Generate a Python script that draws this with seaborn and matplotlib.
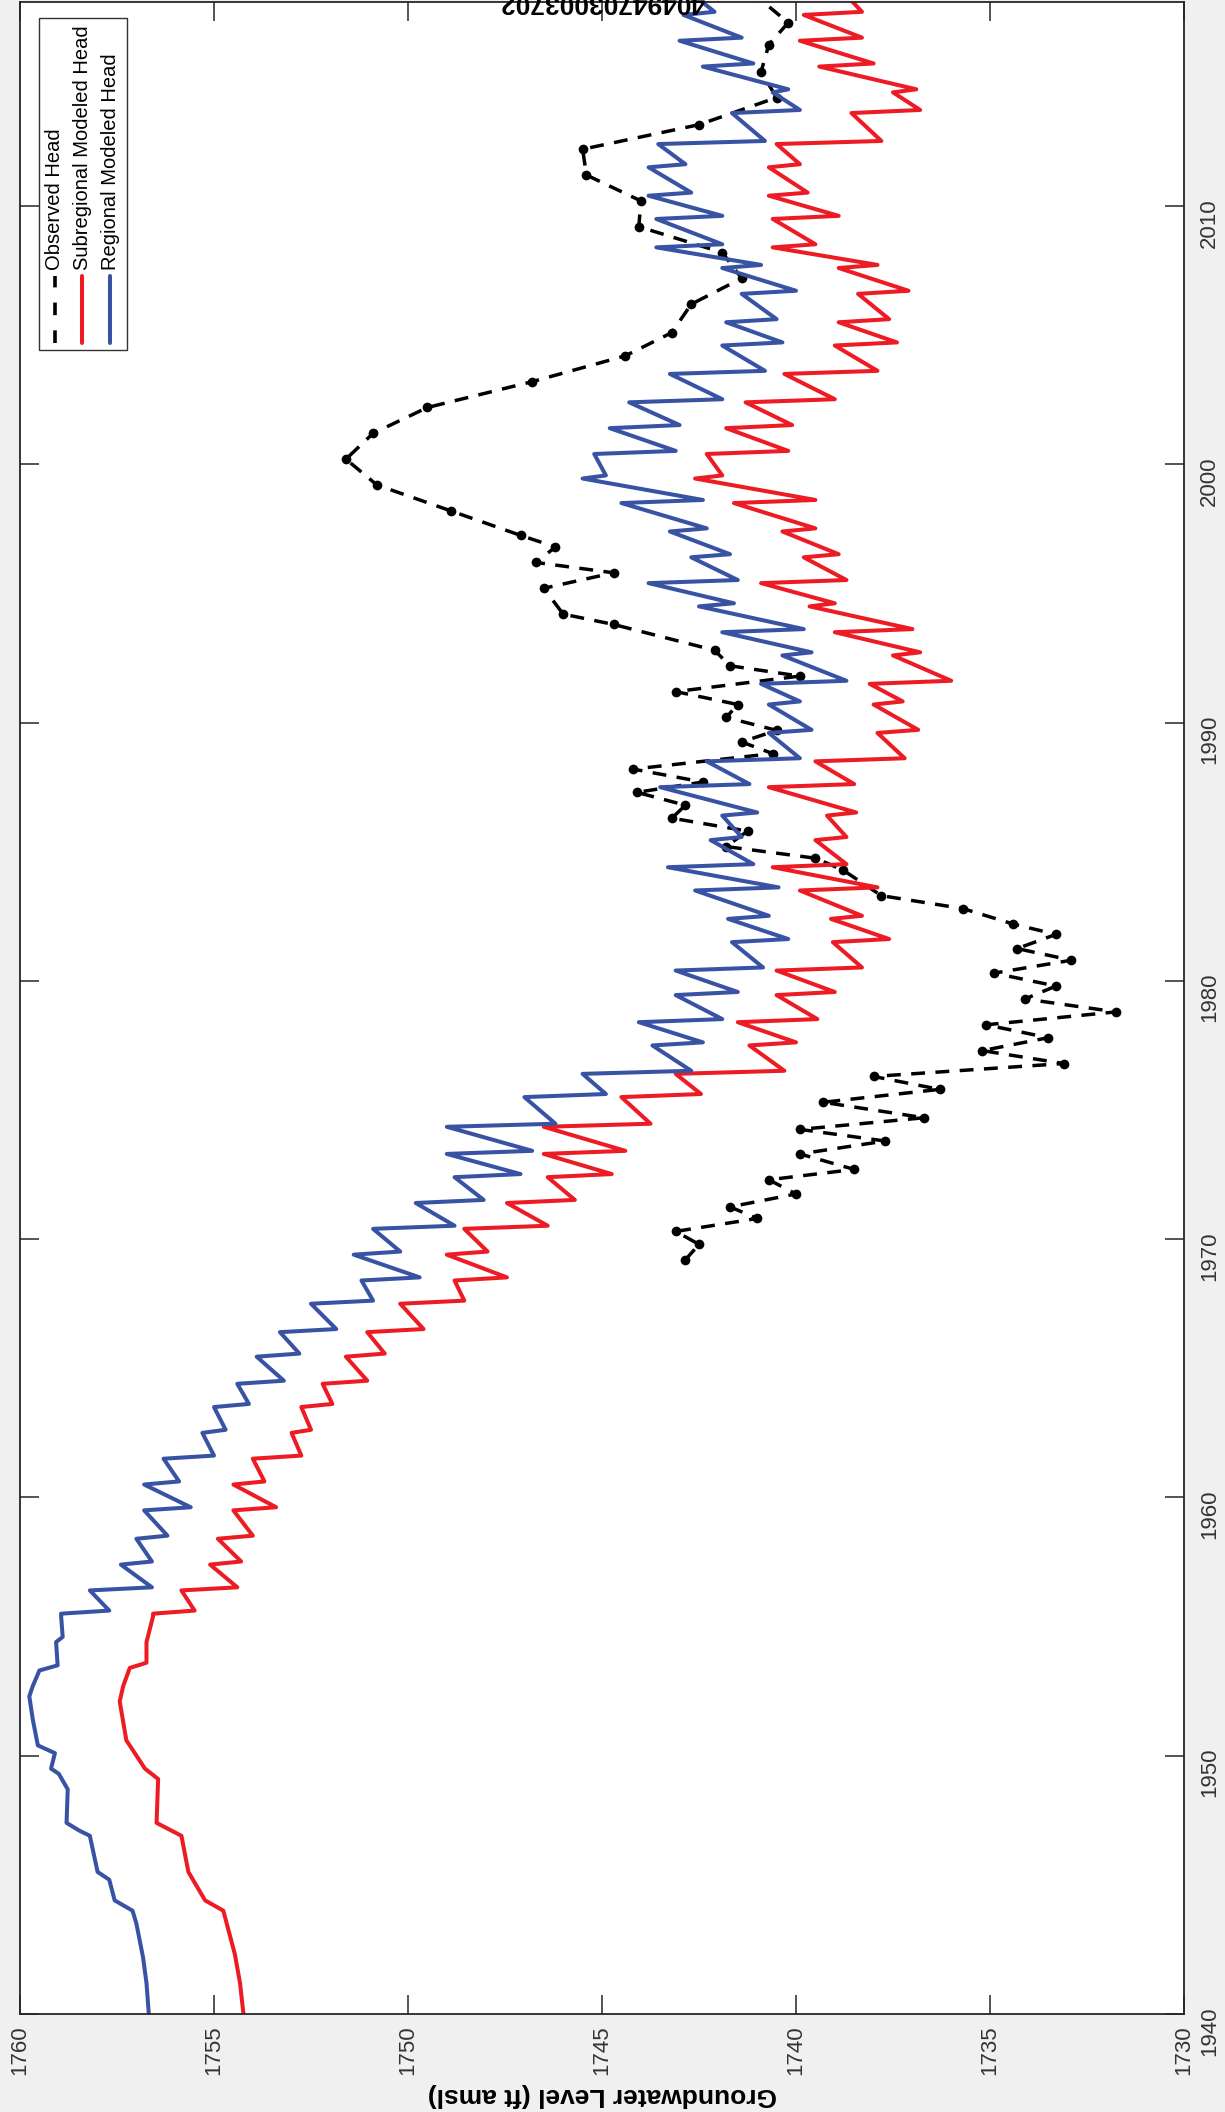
import matplotlib
matplotlib.use("Agg")
import matplotlib.pyplot as plt
from matplotlib.lines import Line2D
from matplotlib.patches import Rectangle
import seaborn as sns
import pandas as pd
import numpy as np

# ---- data (year, groundwater level in ft amsl) ----
# slow rise 1940-1955, plain polyline
blue_early_year = [1940.0, 1941.2, 1942.2, 1943.5, 1944.0, 1944.4, 1945.2, 1945.5, 1946.9, 1947.1,
                   1947.4, 1948.7, 1949.3, 1949.5, 1950.1, 1950.4, 1951.4, 1952.3, 1952.7, 1953.3,
                   1953.5, 1954.4, 1954.6, 1955.4]
blue_early_level = [1756.68, 1756.74, 1756.83, 1757.0, 1757.1, 1757.56, 1757.7, 1758.0, 1758.2, 1758.47,
                    1758.8, 1758.77, 1759.0, 1759.2, 1759.1, 1759.54, 1759.67, 1759.76, 1759.67, 1759.5,
                    1759.03, 1759.07, 1758.9, 1758.94]
red_early_year = [1940.0, 1941.2, 1942.3, 1944.0, 1944.4, 1945.5, 1946.9, 1947.4, 1949.1, 1949.5,
                  1950.6, 1952.1, 1952.7, 1953.4, 1953.6, 1954.4, 1955.4]
red_early_level = [1754.24, 1754.33, 1754.46, 1754.76, 1755.23, 1755.66, 1755.84, 1756.48, 1756.44, 1756.78,
                   1757.26, 1757.43, 1757.34, 1757.17, 1756.74, 1756.74, 1756.57]

# yearly cycles after 1955: level just before the seasonal drop and right after it
drop_year = [1955.5, 1956.4, 1957.4, 1958.4, 1959.5, 1960.5, 1961.5, 1962.5, 1963.5, 1964.4,
             1965.45, 1966.4, 1967.5, 1968.4, 1969.4, 1970.4, 1971.4, 1972.4, 1973.3, 1974.35,
             1975.5, 1976.4, 1977.5, 1978.4, 1979.45, 1980.4, 1981.5, 1982.4, 1983.5, 1984.4,
             1985.45, 1986.4, 1987.5, 1988.5, 1989.6, 1990.7, 1991.5, 1992.6, 1993.5, 1994.5,
             1995.4, 1996.4, 1997.4, 1998.5, 1999.45, 2000.4, 2001.4, 2002.4, 2003.5, 2004.6,
             2005.5, 2006.6, 2007.6, 2008.4, 2009.5, 2010.4, 2011.5, 2012.4, 2013.6, 2014.4,
             2015.4, 2016.4, 2017.4]
blue_peak = [1758.94, 1758.2, 1757.4, 1757.0, 1756.8, 1756.8, 1756.3, 1755.3, 1755.0, 1754.4,
             1753.9, 1753.3, 1752.5, 1751.2, 1751.4, 1750.9, 1749.8, 1748.8, 1749.0, 1749.0,
             1747.0, 1745.5, 1743.7, 1744.05, 1743.1, 1743.1, 1741.65, 1741.75, 1742.6, 1743.3,
             1742.2, 1741.9, 1743.5, 1742.3, 1740.7, 1740.7, 1740.9, 1740.35, 1741.9, 1742.5,
             1743.8, 1742.7, 1743.25, 1744.5, 1745.5, 1745.2, 1744.8, 1744.3, 1743.25, 1741.9,
             1741.8, 1741.4, 1741.9, 1743.6, 1743.6, 1743.8, 1743.8, 1743.55, 1741.65, 1740.6,
             1742.4, 1743.0, 1742.9]
blue_trough = [1757.7, 1756.6, 1756.6, 1756.2, 1755.6, 1755.9, 1755.0, 1754.7, 1754.1, 1753.2,
               1752.8, 1751.85, 1750.9, 1749.7, 1750.2, 1748.8, 1748.05, 1747.1, 1746.8, 1746.2,
               1744.9, 1742.7, 1742.4, 1741.9, 1741.5, 1740.85, 1740.2, 1740.7, 1740.45, 1741.1,
               1741.4, 1741.0, 1741.2, 1739.9, 1739.6, 1739.9, 1738.7, 1739.6, 1739.8, 1741.6,
               1741.5, 1741.7, 1742.3, 1742.4, 1744.9, 1743.1, 1743.0, 1741.9, 1740.8, 1740.35,
               1740.5, 1740.0, 1740.9, 1741.9, 1741.9, 1742.7, 1742.85, 1740.8, 1739.9, 1740.2,
               1741.1, 1741.4, 1742.1]
red_peak = [1756.57, 1755.84, 1755.1, 1754.9, 1754.5, 1754.5, 1754.0, 1753.0, 1752.75, 1752.2,
            1751.6, 1751.05, 1750.2, 1748.8, 1749.0, 1748.55, 1747.45, 1746.4, 1746.5, 1746.5,
            1744.5, 1743.1, 1741.2, 1741.5, 1740.5, 1740.5, 1739.05, 1739.1, 1739.9, 1740.6,
            1739.5, 1739.2, 1740.7, 1739.5, 1737.9, 1738.0, 1738.1, 1737.5, 1739.0, 1739.65,
            1740.9, 1739.8, 1740.35, 1741.6, 1742.6, 1742.3, 1741.8, 1741.3, 1740.3, 1739.0,
            1738.9, 1738.4, 1738.9, 1740.6, 1740.6, 1740.7, 1740.7, 1740.5, 1738.57, 1737.5,
            1739.4, 1739.9, 1739.8]
red_trough = [1755.5, 1754.4, 1754.3, 1754.0, 1753.4, 1753.7, 1752.75, 1752.5, 1751.95, 1751.05,
              1750.6, 1749.6, 1748.55, 1747.45, 1747.95, 1746.4, 1745.7, 1744.75, 1744.4, 1743.75,
              1742.45, 1740.3, 1740.0, 1739.45, 1739.0, 1738.3, 1737.6, 1738.3, 1737.9, 1738.7,
              1738.7, 1738.45, 1738.5, 1737.2, 1736.85, 1737.25, 1736.0, 1736.8, 1737.0, 1739.0,
              1738.7, 1738.9, 1739.5, 1739.5, 1741.9, 1740.2, 1740.1, 1739.0, 1737.9, 1737.4,
              1737.6, 1737.1, 1737.9, 1739.5, 1738.9, 1739.7, 1739.9, 1737.8, 1736.8, 1736.9,
              1738.0, 1738.3, 1738.3]
blue_last = (2018.0, 1742.5)
red_last = (2018.0, 1738.6)

obs_year = [1969.2, 1969.8, 1970.3, 1970.8, 1971.25, 1971.75, 1972.3, 1972.7, 1973.3, 1973.8,
            1974.25, 1974.7, 1975.3, 1975.8, 1976.3, 1976.8, 1977.3, 1977.8, 1978.3, 1978.8,
            1979.3, 1979.8, 1980.3, 1980.8, 1981.25, 1981.8, 1982.2, 1982.8, 1983.3, 1984.3,
            1984.75, 1985.2, 1985.8, 1986.3, 1986.8, 1987.3, 1987.7, 1988.2, 1988.8, 1989.25,
            1989.7, 1990.2, 1990.7, 1991.2, 1991.8, 1992.2, 1992.8, 1993.8, 1994.2, 1995.2,
            1995.8, 1996.2, 1996.8, 1997.25, 1998.2, 1999.2, 2000.2, 2001.2, 2002.2, 2003.2,
            2004.2, 2005.1, 2006.2, 2007.2, 2008.2, 2009.2, 2010.2, 2011.2, 2012.2, 2013.15,
            2014.2, 2015.2, 2016.25, 2017.1, 2018.1]
obs_level = [1742.85, 1742.5, 1743.1, 1741.0, 1741.7, 1740.0, 1740.7, 1738.5, 1739.9, 1737.7,
             1739.9, 1736.7, 1739.3, 1736.3, 1738.0, 1733.1, 1735.2, 1733.5, 1735.1, 1731.75,
             1734.1, 1733.3, 1734.9, 1732.9, 1734.3, 1733.3, 1734.4, 1735.7, 1737.8, 1738.8,
             1739.5, 1741.8, 1741.25, 1743.2, 1742.85, 1744.1, 1742.4, 1744.2, 1740.6, 1741.4,
             1740.5, 1741.8, 1741.5, 1743.1, 1739.9, 1741.7, 1742.1, 1744.7, 1746.0, 1746.5,
             1744.7, 1746.7, 1746.2, 1747.1, 1748.9, 1750.8, 1751.6, 1750.9, 1749.5, 1746.8,
             1744.4, 1743.2, 1742.7, 1741.4, 1741.9, 1744.05, 1744.0, 1745.4, 1745.5, 1742.5,
             1740.5, 1740.9, 1740.7, 1740.2, 1741.0]

level_ticks = [1730, 1735, 1740, 1745, 1750, 1755, 1760]
year_ticks = [1940, 1950, 1960, 1970, 1980, 1990, 2000, 2010]
series_names = ["Observed Head", "Subregional Modeled Head", "Regional Modeled Head"]
well_id = "40494703003702"


def build_trace(early_year, early_level, peaks, troughs, last):
    years = list(early_year)
    levels = list(early_level)
    for d, p, t in zip(drop_year, peaks, troughs):
        years += [d, d + 0.12]
        levels += [p, t]
    years.append(last[0])
    levels.append(last[1])
    return pd.DataFrame({"year": years, "level": levels})


blue_df = build_trace(blue_early_year, blue_early_level, blue_peak, blue_trough, blue_last)
red_df = build_trace(red_early_year, red_early_level, red_peak, red_trough, red_last)
obs_df = pd.DataFrame({"year": obs_year, "level": obs_level})

sns.set_style("white")
plt.rcParams["font.family"] = ["Liberation Sans", "DejaVu Sans"]

W, H = 1225, 2112
BLUE = "#3953a4"
RED = "#ed1c24"

fig = plt.figure(figsize=(W / 100, H / 100), dpi=100, facecolor="#f0f0f0")
# the chart is shown turned a quarter turn: levels run across, years run up
ax = fig.add_axes([20 / W, 98 / H, 1164 / W, 2012 / H])
ax.set_facecolor("white")

sns.lineplot(data=obs_df, x="level", y="year", sort=False, estimator=None, ax=ax,
             color="black", lw=2.5, linestyle=(0, (4, 3)), marker="o", markersize=7,
             markeredgecolor="black", markeredgewidth=0)
sns.lineplot(data=red_df, x="level", y="year", sort=False, estimator=None, ax=ax,
             color=RED, lw=2.9, solid_joinstyle="round")
sns.lineplot(data=blue_df, x="level", y="year", sort=False, estimator=None, ax=ax,
             color=BLUE, lw=2.9, solid_joinstyle="round")

ax.set_xlim(1760, 1730)
ax.set_ylim(1940, 2017.9)
ax.set_xticks(level_ticks)
ax.set_yticks(year_ticks)
ax.tick_params(axis="both", direction="in", length=13.5, width=1.1, color="#262626",
               labelsize=16, labelcolor="#333333")
ax.tick_params(axis="x", top=True, bottom=True, labelrotation=90, pad=8)
ax.tick_params(axis="y", left=True, right=True, labelleft=False, labelright=True,
               labelrotation=90, pad=11)
for s in ax.spines.values():
    s.set_color("#262626")
    s.set_linewidth(1.3)

ax.set_ylabel("")
ax.set_xlabel("Groundwater Level (ft amsl)", rotation=180, fontsize=19,
              fontweight="bold", labelpad=6, color="black")

# well id, upside down; the reference shows it clipped by the top edge
ax.text(0.5, 1.0, well_id, transform=ax.transAxes, rotation=180, ha="center", va="center",
        fontsize=19, fontweight="bold", color="black", clip_on=False)

# legend, turned like the rest of the chart
fig.add_artist(Rectangle((39 / W, 1 - 350 / H), 88 / W, 332 / H, transform=fig.transFigure,
                         facecolor="white", edgecolor="#333333", lw=1.0))
legend_x = [55, 82, 110]
legend_style = [("black", (0, (3.5, 4.2)), 2.6), (RED, "-", 2.9), (BLUE, "-", 2.9)]
for x, name, (c, ls, lw) in zip(legend_x, series_names, legend_style):
    fig.add_artist(Line2D([x / W, x / W], [1 - 343 / H, 1 - 276 / H], transform=fig.transFigure,
                          color=c, linestyle=ls, lw=lw))
    fig.text(x / W, 1 - 270 / H, name, rotation=90, rotation_mode="anchor",
             ha="left", va="center", fontsize=14.5, color="black")

fig.savefig("out.png", dpi=100, facecolor=fig.get_facecolor())
